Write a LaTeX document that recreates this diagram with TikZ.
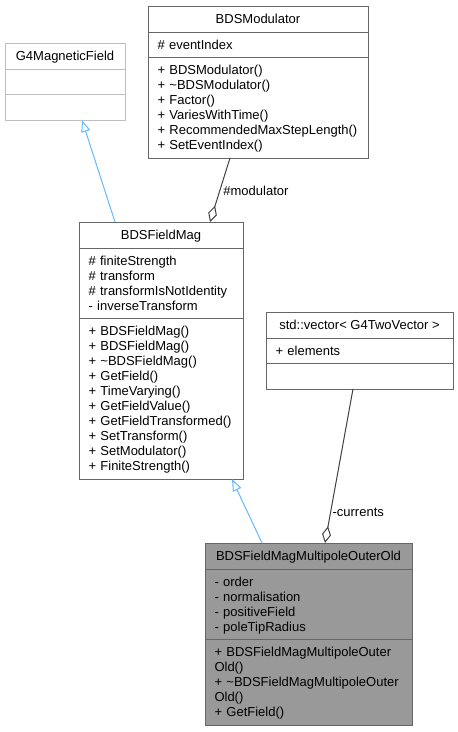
\documentclass[tikz,border=0pt]{standalone}
\usepackage{fontspec}
\setmainfont{Liberation Sans}
\usepackage{tikz}
\usetikzlibrary{arrows.meta,positioning,calc}

\definecolor{boxgray}{HTML}{666666}
\definecolor{extgray}{HTML}{BFBFBF}
\definecolor{focusgray}{HTML}{999999}
\definecolor{inheritblue}{HTML}{63B8FF}
\definecolor{aggrgray}{HTML}{404040}

\newcommand{\umlstrut}{\rule[-3pt]{0pt}{15pt}}

\tikzset{
  umlfont/.style={font=\fontsize{13}{15}\selectfont, text=black},
  classtitle/.style={umlfont, line width=1pt, outer sep=0pt, inner sep=0pt,
    minimum height=26pt, anchor=north west, execute at begin node=\umlstrut},
  classpart/.style={umlfont, line width=1pt, outer sep=0pt, align=left,
    inner xsep=9.5pt, inner ysep=5.25pt,
    execute at begin node=\umlstrut, execute at end node=\umlstrut},
  normalclass/.style={draw=boxgray, fill=white},
  extclass/.style={draw=extgray, fill=white},
  focusclass/.style={draw=boxgray, fill=focusgray},
  inheritline/.style={draw=inheritblue, line width=1pt,
    -{Triangle[open,length=12pt,width=9pt]}},
  aggrline/.style={draw=aggrgray, line width=1pt,
    {Diamond[open,length=17pt,width=9pt]}-},
  edgelabel/.style={umlfont},
}

\newcommand{\umlclass}[7]{
  \pgfmathparse{#3-19}
  \let\partwidth\pgfmathresult
  % name
  \node[classtitle, #7, minimum width=#3pt] (#1) at #2 {#4};
  % attributes
  \node[classpart, #7, text width=\partwidth pt, below=0pt of #1] (#1-attr) {#5};
  % operations
  \node[classpart, #7, text width=\partwidth pt, below=0pt of #1-attr] (#1-ops) {#6};
}

\begin{document}
\begin{tikzpicture}[x=1pt,y=1pt]
\useasboundingbox (0,0) rectangle (458,-732);

\umlclass{g4}{(5,-43)}{120}{G4MagneticField}{}{}{extclass}

\umlclass{modulator}{(148,-6)}{220}{BDSModulator}
  {\# eventIndex}
  {+ BDSModulator()\\+ \textasciitilde BDSModulator()\\+ Factor()\\+ VariesWithTime()\\
   + RecommendedMaxStepLength()\\+ SetEventIndex()}{normalclass}

\umlclass{fieldmag}{(79,-222)}{164}{BDSFieldMag}
  {\# finiteStrength\\\# transform\\\# transformIsNotIdentity\\- inverseTransform}
  {+ BDSFieldMag()\\+ BDSFieldMag()\\+ \textasciitilde BDSFieldMag()\\+ GetField()\\
   + TimeVarying()\\+ GetFieldValue()\\+ GetFieldTransformed()\\+ SetTransform()\\
   + SetModulator()\\+ FiniteStrength()}{normalclass}

\umlclass{vector}{(266,-312)}{187}{std::vector\textless{} G4TwoVector \textgreater}
  {+ elements}{}{normalclass}

\umlclass{outer}{(205,-543)}{207}{BDSFieldMagMultipoleOuterOld}
  {- order\\- normalisation\\- positiveField\\- poleTipRadius}
  {+ BDSFieldMagMultipoleOuter\\Old()\\+ \textasciitilde BDSFieldMagMultipoleOuter\\Old()\\
   + GetField()}{focusclass}

% inheritance
\draw[inheritline] ($(fieldmag.north west)+(36,0)$) -- ($(g4-ops.south west)+(77,0)$);
\draw[inheritline] ($(outer.north west)+(57,0)$) -- ($(fieldmag-ops.south west)+(153,0)$);

% aggregation
\draw[aggrline] ($(fieldmag.north west)+(131,0)$) -- ($(modulator-ops.south west)+(82,0)$)
  node[edgelabel, pos=0.48, right] (modlabel) {\#modulator};
\draw[aggrline] ($(outer.north west)+(120,0)$) -- ($(vector-ops.south west)+(87,0)$)
  node[edgelabel, pos=0.2, right, inner sep=1.5pt] (curlabel) {-currents};
\end{tikzpicture}
\end{document}
